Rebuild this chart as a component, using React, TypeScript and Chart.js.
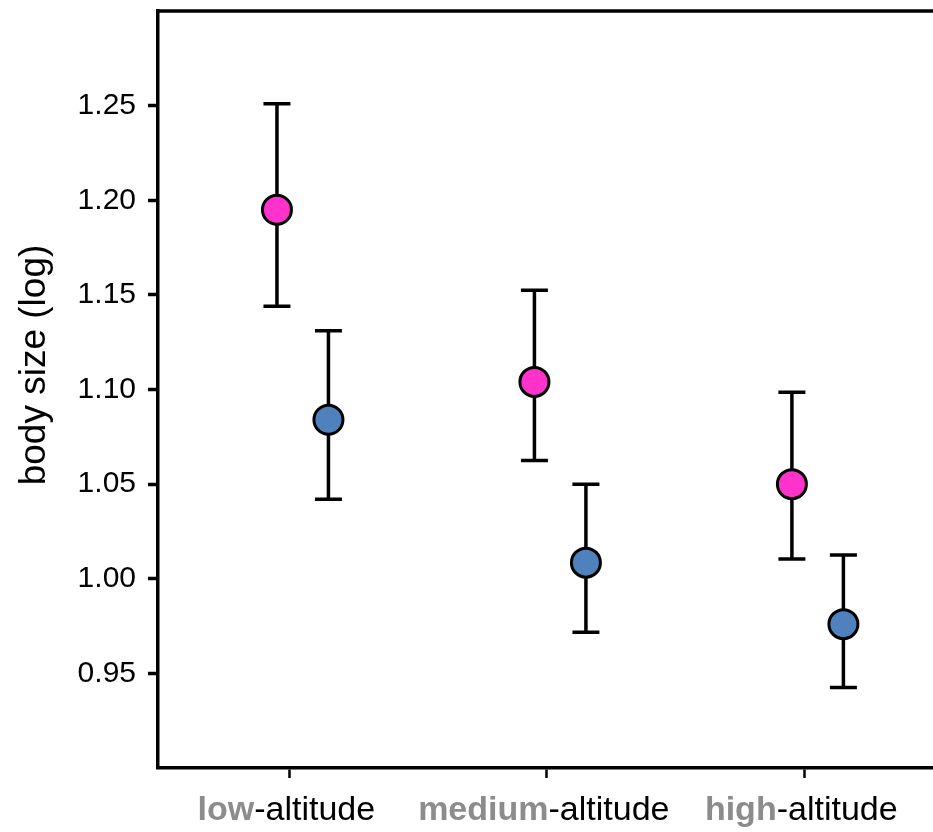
import React, { useEffect, useRef } from "react";
import { Chart, registerables } from "chart.js";

Chart.register(...registerables);

const categoryPrefixes = ["low", "medium", "high"];
const categorySuffix = "-altitude";
const categoryPositions = [1, 2, 3];

const pinkMeans = [1.195, 1.104, 1.05];
const pinkUpper = [1.251, 1.1525, 1.0985];
const pinkLower = [1.144, 1.0625, 1.0105];

const blueMeans = [1.084, 1.0085, 0.976];
const blueUpper = [1.131, 1.05, 1.0125];
const blueLower = [1.042, 0.9717, 0.9425];

const yTickValues = [0.95, 1.0, 1.05, 1.1, 1.15, 1.2, 1.25];
const yTitle = "body size (log)";

const FONT = "'Liberation Sans', Arial, Helvetica, sans-serif";
const PINK_OFFSET = -0.048;
const BLUE_OFFSET = 0.152;

const errorBarPlugin = {
  id: "errorBars",
  beforeDatasetsDraw(chart: any) {
    const ctx = chart.ctx;
    const xs = chart.scales.x;
    const ys = chart.scales.y;
    ctx.save();
    ctx.strokeStyle = "#000";
    ctx.lineWidth = 3.5;
    chart.data.datasets.forEach((ds: any) => {
      ds.data.forEach((p: any) => {
        const x = xs.getPixelForValue(p.x);
        const yU = ys.getPixelForValue(p.hi);
        const yL = ys.getPixelForValue(p.lo);
        ctx.beginPath();
        ctx.moveTo(x, yU);
        ctx.lineTo(x, yL);
        ctx.moveTo(x - 13.5, yU);
        ctx.lineTo(x + 13.5, yU);
        ctx.moveTo(x - 13.5, yL);
        ctx.lineTo(x + 13.5, yL);
        ctx.stroke();
      });
    });
    ctx.restore();
  },
};

const decorPlugin = {
  id: "decor",
  afterDraw(chart: any) {
    const ctx = chart.ctx;
    const area = chart.chartArea;
    const xs = chart.scales.x;
    ctx.save();
    // top frame line
    ctx.strokeStyle = "#000";
    ctx.lineWidth = 3.5;
    ctx.beginPath();
    ctx.moveTo(area.left - 1.75, area.top);
    ctx.lineTo(chart.width, area.top);
    ctx.stroke();

    // category labels: grey bold prefix + black suffix
    ctx.textBaseline = "alphabetic";
    ctx.textAlign = "left";
    categoryPrefixes.forEach((pre, i) => {
      const boldFont = `bold 34px ${FONT}`;
      const regFont = `34px ${FONT}`;
      ctx.font = boldFont;
      const w1 = ctx.measureText(pre).width;
      ctx.font = regFont;
      const w2 = ctx.measureText(categorySuffix).width;
      const cx = xs.getPixelForValue(categoryPositions[i]) - 3;
      const x0 = cx - (w1 + w2) / 2;
      ctx.font = boldFont;
      ctx.fillStyle = "#8c8c8c";
      ctx.fillText(pre, x0, 820);
      ctx.font = regFont;
      ctx.fillStyle = "#000";
      ctx.fillText(categorySuffix, x0 + w1, 820);
    });

    // y axis title
    ctx.translate(35, 365);
    ctx.rotate(-Math.PI / 2);
    ctx.font = `37px ${FONT}`;
    ctx.fillStyle = "#000";
    ctx.textAlign = "center";
    ctx.textBaseline = "middle";
    ctx.fillText(yTitle, 0, 0);
    ctx.restore();
  },
};

export default function App() {
  const canvasRef = useRef<HTMLCanvasElement | null>(null);

  useEffect(() => {
    document.body.style.margin = "0";
    const canvas = canvasRef.current;
    if (!canvas) return;

    const pinkData = categoryPositions.map((c, i) => ({
      x: c + PINK_OFFSET,
      y: pinkMeans[i],
      hi: pinkUpper[i],
      lo: pinkLower[i],
    }));
    const blueData = categoryPositions.map((c, i) => ({
      x: c + BLUE_OFFSET,
      y: blueMeans[i],
      hi: blueUpper[i],
      lo: blueLower[i],
    }));

    const chart = new Chart(canvas, {
      type: "scatter",
      data: {
        datasets: [
          {
            label: "pink",
            data: pinkData as any,
            backgroundColor: "#ff33cc",
            borderColor: "#000",
            pointRadius: 14.5,
            pointBorderWidth: 3,
            pointHoverRadius: 14.5,
          },
          {
            label: "blue",
            data: blueData as any,
            backgroundColor: "#4f81bd",
            borderColor: "#000",
            pointRadius: 14.5,
            pointBorderWidth: 3,
            pointHoverRadius: 14.5,
          },
        ],
      },
      options: {
        animation: false,
        responsive: false,
        maintainAspectRatio: false,
        layout: { autoPadding: false, padding: { top: 11, right: 0, left: 0, bottom: 0 } },
        plugins: {
          legend: { display: false },
          tooltip: { enabled: false },
          title: { display: false },
        },
        scales: {
          x: {
            type: "linear",
            min: 0.49,
            max: 3.5,
            afterBuildTicks: (scale: any) => {
              scale.ticks = categoryPositions.map((v) => ({ value: v }));
            },
            afterFit: (scale: any) => {
              scale.height = 64;
              scale.paddingLeft = 0;
              scale.paddingRight = 0;
            },
            ticks: { display: false },
            grid: {
              drawOnChartArea: false,
              drawTicks: true,
              tickLength: 10,
              tickWidth: 2.5,
              tickColor: "#000",
              color: "#000",
            },
            border: { display: true, color: "#000", width: 3.5 },
          },
          y: {
            type: "linear",
            min: 0.9,
            max: 1.3,
            afterBuildTicks: (scale: any) => {
              scale.ticks = yTickValues.map((v) => ({ value: v }));
            },
            afterFit: (scale: any) => {
              scale.width = 158;
              scale.paddingTop = 0;
              scale.paddingBottom = 0;
            },
            ticks: {
              padding: 12,
              color: "#000",
              font: { family: FONT, size: 30 },
              callback: (v: any) => Number(v).toFixed(2),
            },
            grid: {
              drawOnChartArea: false,
              drawTicks: true,
              tickLength: 10,
              tickWidth: 3.5,
              tickColor: "#000",
              color: "#000",
            },
            border: { display: true, color: "#000", width: 3.5 },
          },
        },
      },
      plugins: [errorBarPlugin, decorPlugin],
    });

    return () => chart.destroy();
  }, []);

  return (
    <div style={{ width: 933, height: 832, background: "#fff" }}>
      <canvas ref={canvasRef} width={933} height={832} style={{ display: "block" }} />
    </div>
  );
}
